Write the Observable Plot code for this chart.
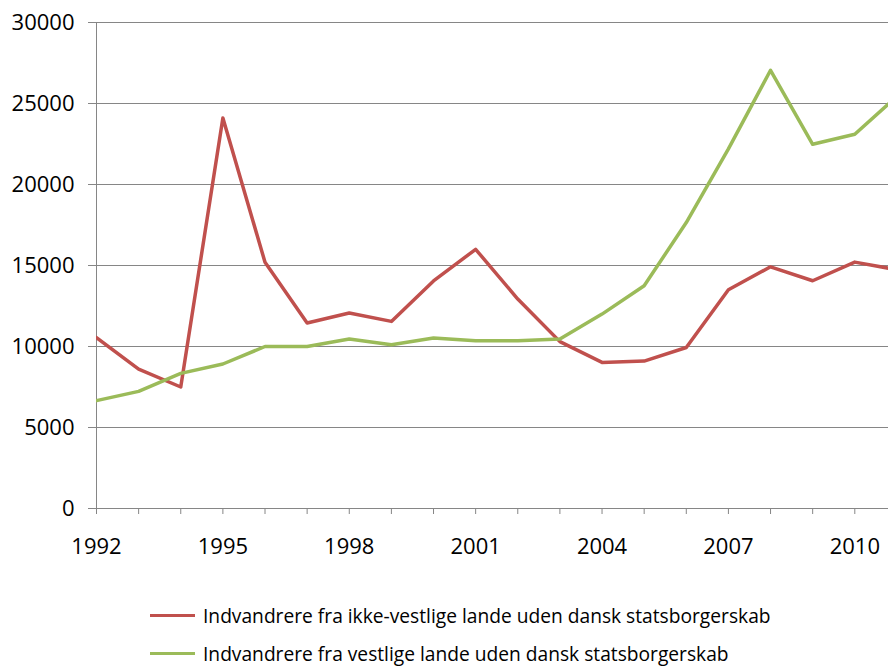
<!DOCTYPE html>
<html>
<head>
<meta charset="utf-8">
<script src="https://cdn.jsdelivr.net/npm/d3@7"></script>
<script src="https://cdn.jsdelivr.net/npm/@observablehq/plot@0.6"></script>
<style>
  body { margin: 0; background: #fff; font-family: "Open Sans", sans-serif; }
  #wrap { position: relative; width: 888px; height: 668px; overflow: hidden; }
  #legend { position: absolute; left: 150px; top: 596px; font-size: 19.2px; color: #000; }
  .item { display: flex; align-items: center; height: 38px; }
  .sw { width: 45px; height: 3px; margin-right: 8px; }
</style>
</head>
<body>
<div id="wrap">
  <div id="chart"></div>
  <div id="legend"></div>
</div>
<script>
const years = [1992,1993,1994,1995,1996,1997,1998,1999,2000,2001,2002,2003,2004,2005,2006,2007,2008,2009,2010,2011];
const nonWestern = [10550,8600,7500,24100,15200,11450,12070,11550,14050,16000,12930,10300,9020,9100,9940,13500,14920,14060,15210,14740];
const western = [6660,7230,8340,8920,10000,10000,10460,10110,10520,10360,10360,10460,12000,13750,17650,22200,27050,22480,23100,25450];
const seriesNames = [
  "Indvandrere fra ikke-vestlige lande uden dansk statsborgerskab",
  "Indvandrere fra vestlige lande uden dansk statsborgerskab"
];
const seriesColors = ["#C0504D", "#9BBB59"];
const yTicks = [0,5000,10000,15000,20000,25000,30000];
const xLabelYears = [1992,1995,1998,2001,2004,2007,2010];

const data = [];
years.forEach((y, i) => {
  data.push({year: y, value: nonWestern[i], series: seriesNames[0]});
  data.push({year: y, value: western[i], series: seriesNames[1]});
});

const axisColor = "#868686";
const chart = Plot.plot({
  width: 888,
  height: 568,
  marginLeft: 96,
  marginRight: 0,
  marginTop: 22,
  marginBottom: 60,
  style: {fontFamily: "Open Sans, sans-serif", fontSize: "22px", color: "#000", background: "#fff"},
  x: {domain: [1992, 2010.8], label: null},
  y: {domain: [0, 30000], label: null},
  color: {domain: seriesNames, range: seriesColors},
  marks: [
    Plot.gridY(yTicks, {stroke: axisColor, strokeOpacity: 1, strokeWidth: 1}),
    Plot.axisY(yTicks, {tickSize: 8, tickPadding: 14, stroke: axisColor, fill: "#000", tickFormat: d => String(d), fontSize: 22}),
    Plot.axisX(years, {tickSize: 6, stroke: axisColor, tickFormat: () => ""}),
    Plot.axisX(xLabelYears, {tickSize: 0, tickPadding: 30, fill: "#000", tickFormat: d => String(d), fontSize: 22}),
    Plot.ruleX([1992], {stroke: axisColor}),
    Plot.ruleY([0], {stroke: axisColor}),
    Plot.lineY(data, {x: "year", y: "value", z: "series", stroke: "series", strokeWidth: 3.5, clip: true})
  ]
});
document.getElementById("chart").appendChild(chart);

const legend = document.getElementById("legend");
seriesNames.forEach((name, i) => {
  const item = document.createElement("div");
  item.className = "item";
  const sw = document.createElement("div");
  sw.className = "sw";
  sw.style.background = seriesColors[i];
  const t = document.createElement("span");
  t.textContent = name;
  item.appendChild(sw);
  item.appendChild(t);
  legend.appendChild(item);
});
</script>
</body>
</html>
